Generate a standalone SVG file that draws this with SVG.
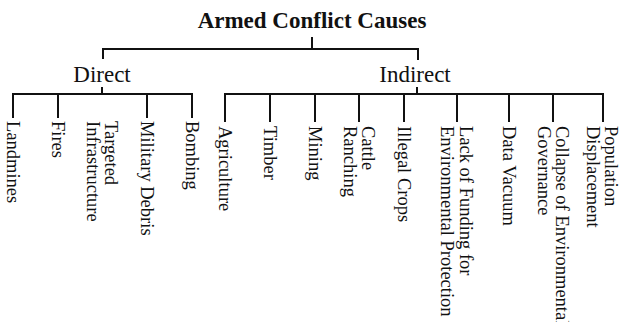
<svg xmlns="http://www.w3.org/2000/svg" width="622" height="322" viewBox="0 0 622 322">
<style>
.t{font-family:"Liberation Serif","Times New Roman",serif;fill:#111}
.title{font-size:23px;font-weight:bold;text-anchor:middle}
.mid{font-size:23px;text-anchor:middle}
.leaf{font-size:18.5px}
.c{stroke:#111;stroke-width:2;fill:none}
</style>
<rect width="622" height="322" fill="#fff"/>
<g id="connectors">
<path class="c" d="M312 37V49M103 49H418M103 48V59M418 48V60"/>
<path class="c" d="M102 87V94M13 94H192M13 93V118M58 94V118M147 94V118M192 93V118"/>
<path class="c" d="M417 87V94M225 94H603M225 93V122M270 94V122M315 94V122M359 94V122M404 94V122M457 94V122M509 94V122M553 94V122M603 93V122"/>
</g>
<g id="root"><text class="t title" x="312" y="28">Armed Conflict Causes</text></g>
<g id="direct"><text class="t mid" x="102" y="82">Direct</text></g>
<g id="indirect"><text class="t mid" x="415" y="82">Indirect</text></g>
<g id="landmines"><text class="t leaf" transform="translate(7,121) rotate(90)">Landmines</text></g>
<g id="fires"><text class="t leaf" transform="translate(52,121) rotate(90)">Fires</text></g>
<g id="targeted"><text class="t leaf" transform="translate(105,121) rotate(90)">Targeted<tspan x="0" dy="18">Infrastructure</tspan></text></g>
<g id="military"><text class="t leaf" transform="translate(141,121) rotate(90)">Military Debris</text></g>
<g id="bombing"><text class="t leaf" transform="translate(186,121) rotate(90)">Bombing</text></g>
<g id="agriculture"><text class="t leaf" transform="translate(219,126) rotate(90)">Agriculture</text></g>
<g id="timber"><text class="t leaf" transform="translate(264,126) rotate(90)">Timber</text></g>
<g id="mining"><text class="t leaf" transform="translate(309,126) rotate(90)">Mining</text></g>
<g id="cattle"><text class="t leaf" transform="translate(362,126) rotate(90)">Cattle<tspan x="0" dy="18">Ranching</tspan></text></g>
<g id="illegal"><text class="t leaf" transform="translate(398,126) rotate(90)">Illegal Crops</text></g>
<g id="funding"><text class="t leaf" transform="translate(460,126) rotate(90)">Lack of Funding for<tspan x="0" dy="19">Environmental Protection</tspan></text></g>
<g id="data"><text class="t leaf" transform="translate(503,126) rotate(90)">Data Vacuum</text></g>
<g id="collapse"><text class="t leaf" transform="translate(556,126) rotate(90)">Collapse of Environmental<tspan x="0" dy="18">Governance</tspan></text></g>
<g id="population"><text class="t leaf" transform="translate(605,126) rotate(90)">Population<tspan x="0" dy="18">Displacement</tspan></text></g>
</svg>
